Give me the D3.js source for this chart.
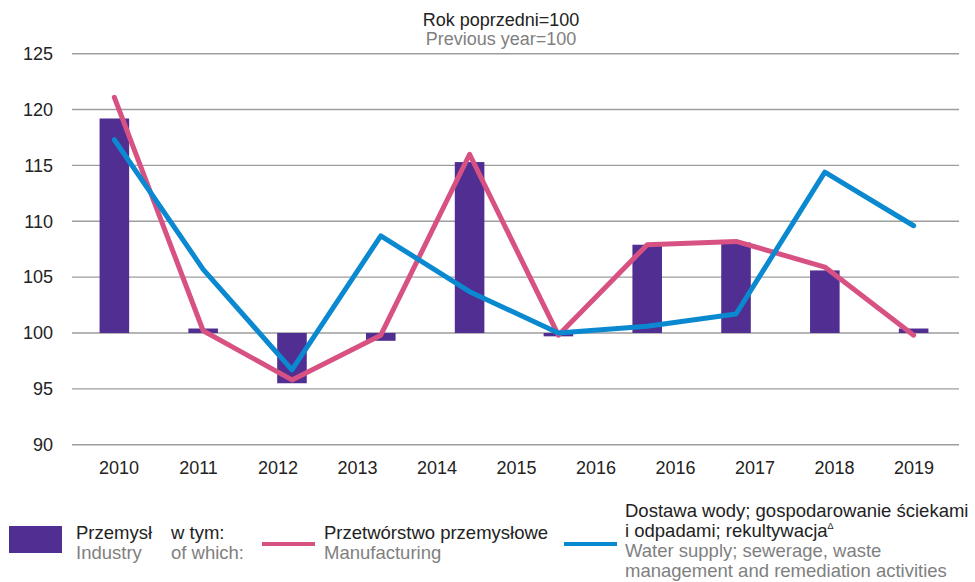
<!DOCTYPE html>
<html>
  <head>
    <meta charset="utf-8">
    <title>Rok poprzedni=100</title>
    <script src="https://d3js.org/d3.v7.min.js"></script>
    <style>
      body { margin: 0; background: #fff; }
      svg text { font-family: "Liberation Sans", Arial, sans-serif; }
    </style>
  </head>
  <body>
    <div id="chart"></div>

    <script>
      // data
      var years = ["2010", "2011", "2012", "2013", "2014", "2015", "2016", "2017", "2018", "2019"];
      var industry = [119.2, 100.4, 95.5, 99.3, 115.3, 99.7, 107.9, 108.1, 105.6, 100.4];
      var manufacturing = [121.1, 100.2, 95.8, 99.8, 116.0, 99.8, 107.9, 108.2, 105.9, 99.8];
      var waterSupply = [117.3, 105.7, 96.7, 108.7, 103.7, 100.0, 100.6, 101.7, 114.4, 109.6];
      // the axis labels as printed (2016 appears twice in the original)
      var tickLabels = ["2010", "2011", "2012", "2013", "2014", "2015", "2016", "2016", "2017", "2018", "2019"];
      var yTicks = [90, 95, 100, 105, 110, 115, 120, 125];

      var width = 975, height = 582;
      var purple = "#512e91", pink = "#d75283", blue = "#0a89d0";
      var fs = 18.5;

      var svg = d3.select("#chart").append("svg")
          .attr("width", width).attr("height", height);

      var y = d3.scaleLinear().domain([90, 125]).range([444.7, 53.7]);
      var x = d3.scaleBand().domain(years).range([70, 958]).paddingInner(0.667).paddingOuter(0.333);
      var xc = function (d) { return x(d) + x.bandwidth() / 2; };
      var xLab = d3.scalePoint().domain(d3.range(tickLabels.length)).range([119, 914]);

      // gridlines
      svg.append("g").selectAll("line").data(yTicks).enter().append("line")
          .attr("x1", 72).attr("x2", 959)
          .attr("y1", function (d) { return y(d); })
          .attr("y2", function (d) { return y(d); })
          .attr("stroke", "#9d9d9d").attr("stroke-width", 1.4);

      // y axis labels
      var yAxis = svg.append("g").attr("transform", "translate(58,0)")
          .call(d3.axisLeft(y).tickValues(yTicks).tickSize(0).tickPadding(5));
      yAxis.select(".domain").remove();
      yAxis.selectAll("text").attr("font-size", 18).attr("fill", "#222")
          .style("font-family", "Liberation Sans, Arial, sans-serif");

      // x axis labels
      svg.append("g").selectAll("text").data(tickLabels).enter().append("text")
          .attr("x", function (d, i) { return xLab(i); })
          .attr("y", 474)
          .attr("text-anchor", "middle").attr("font-size", 18).attr("fill", "#222")
          .text(function (d) { return d; });

      // bars from 100
      svg.append("g").selectAll("rect").data(industry).enter().append("rect")
          .attr("x", function (d, i) { return x(years[i]); })
          .attr("width", x.bandwidth())
          .attr("y", function (d) { return y(Math.max(d, 100)); })
          .attr("height", function (d) { return Math.abs(y(d) - y(100)); })
          .attr("fill", purple);

      var line = d3.line()
          .x(function (d, i) { return xc(years[i]); })
          .y(function (d) { return y(d); });

      svg.append("path").datum(manufacturing).attr("d", line)
          .attr("fill", "none").attr("stroke", pink).attr("stroke-width", 5)
          .attr("stroke-linejoin", "round").attr("stroke-linecap", "round");
      svg.append("path").datum(waterSupply).attr("d", line)
          .attr("fill", "none").attr("stroke", blue).attr("stroke-width", 5)
          .attr("stroke-linejoin", "round").attr("stroke-linecap", "round");

      // title
      svg.append("text").attr("x", 501).attr("y", 25.5).attr("text-anchor", "middle")
          .attr("font-size", 18).attr("fill", "#222").text("Rok poprzedni=100");
      svg.append("text").attr("x", 501).attr("y", 45).attr("text-anchor", "middle")
          .attr("font-size", 18).attr("fill", "#7f7f7f").text("Previous year=100");

      // legend
      var lg = svg.append("g");
      lg.append("rect").attr("x", 9).attr("y", 526).attr("width", 53).attr("height", 27).attr("fill", purple);
      function label(xp, yp, lines) {
        lines.forEach(function (l, i) {
          lg.append("text").attr("x", xp).attr("y", yp + i * 20)
              .attr("font-size", fs).attr("fill", l[1]).text(l[0]);
        });
      }
      label(76, 539, [["Przemysł", "#222"], ["Industry", "#7f7f7f"]]);
      label(171, 539, [["w tym:", "#222"], ["of which:", "#7f7f7f"]]);
      lg.append("line").attr("x1", 262).attr("x2", 315).attr("y1", 544).attr("y2", 544)
          .attr("stroke", pink).attr("stroke-width", 4);
      label(324, 539, [["Przetwórstwo przemysłowe", "#222"], ["Manufacturing", "#7f7f7f"]]);
      lg.append("line").attr("x1", 564).attr("x2", 617).attr("y1", 544).attr("y2", 544)
          .attr("stroke", blue).attr("stroke-width", 4);
      label(625, 517, [["Dostawa wody; gospodarowanie ściekami", "#222"]]);
      var t = lg.append("text").attr("x", 625).attr("y", 537).attr("font-size", fs).attr("fill", "#222");
      t.append("tspan").text("i odpadami; rekultywacja");
      t.append("tspan").attr("font-size", 9).attr("dy", -8).text("Δ");
      label(625, 557, [["Water supply; sewerage, waste", "#7f7f7f"], ["management and remediation activities", "#7f7f7f"]]);
    </script>
  </body>
</html>
